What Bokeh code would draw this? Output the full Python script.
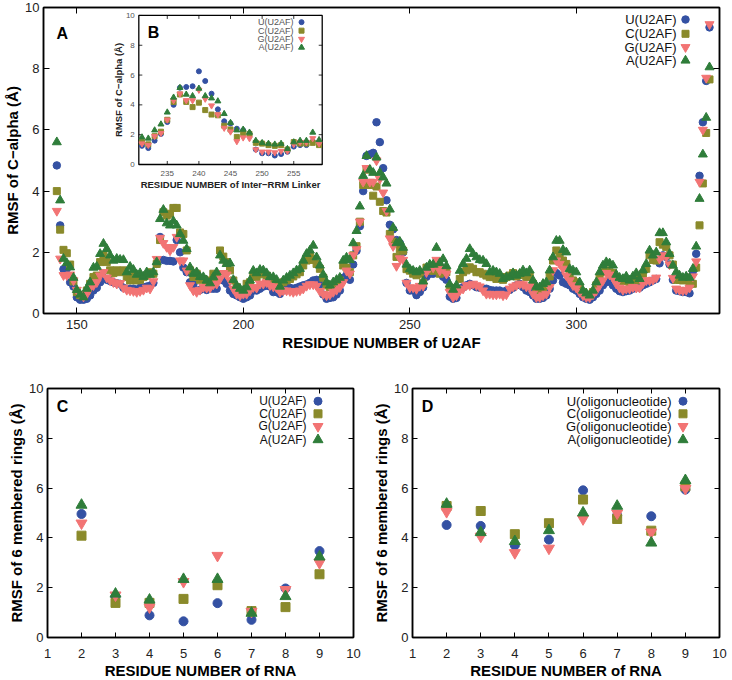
import numpy as np
from bokeh.plotting import figure
from bokeh.layouts import column, row
from bokeh.models import Range1d, LinearAxis, FixedTicker, CustomJSTickFormatter
from bokeh.core.properties import value
from bokeh.embed import file_html
from bokeh.resources import INLINE

FONT = "Liberation Sans"

# ---------------- panel A / B data: RMSF of C-alpha per residue of U2AF ----------------
residues = list(range(144, 341))

u_u2af = [
    4.84, 2.88, 1.45, 1.46, 1.02, 0.88, 0.53, 0.45, 0.45, 0.48,
    0.59, 0.75, 0.84, 1.02, 1.17, 1.10, 1.06, 1.02, 0.99, 0.97,
    0.84, 0.81, 0.81, 0.81, 0.77, 0.84, 0.86, 0.88, 0.91, 1.00,
    1.62, 2.50, 1.75, 1.72, 1.72, 1.70, 2.40, 2.00, 1.50, 1.35,
    1.02, 0.95, 0.75, 0.77, 0.81, 0.77, 0.81, 0.81, 0.81, 1.10,
    1.08, 0.97, 0.75, 0.64, 0.59, 0.53, 0.48, 0.53, 0.59, 0.75,
    0.75, 0.81, 0.88, 0.91, 0.88, 0.70, 0.70, 0.64, 0.75, 0.84,
    0.84, 0.81, 0.84, 0.88, 0.92, 0.95, 1.00, 1.08, 1.10, 0.95,
    0.62, 0.48, 0.51, 0.53, 0.62, 0.75, 1.17, 1.25, 1.10, 1.60,
    2.05, 2.85, 4.00, 5.15, 5.20, 5.25, 6.25, 5.60, 4.75, 3.70,
    2.90, 2.75, 2.40, 2.30, 2.00, 1.00, 0.75, 0.75, 0.60, 0.70,
    0.85, 1.20, 1.30, 1.30, 1.55, 1.50, 1.20, 1.10, 0.55, 0.48,
    0.51, 0.81, 0.86, 0.92, 0.97, 0.92, 0.86, 0.84, 0.81, 0.81,
    0.77, 0.75, 0.75, 0.75, 0.70, 0.75, 0.77, 0.84, 0.92, 0.97,
    0.86, 0.75, 0.70, 0.59, 0.48, 0.48, 0.51, 0.59, 0.81, 1.08,
    1.32, 1.24, 1.02, 0.97, 0.92, 0.81, 0.75, 0.64, 0.53, 0.48,
    0.45, 0.53, 0.64, 0.75, 0.92, 1.02, 1.06, 0.92, 0.81, 0.73,
    0.70, 0.73, 0.75, 0.81, 0.86, 0.84, 0.92, 0.97, 1.02, 1.08,
    1.13, 1.64, 1.90, 1.85, 1.60, 1.10, 0.75, 0.73, 0.70, 0.70,
    0.66, 1.38, 1.95, 4.50, 6.25, 7.60, 9.35,
]
c_u2af = [
    4.00, 2.74, 2.08, 1.97, 1.60, 1.05, 0.70, 0.60, 0.59, 0.75,
    0.97, 1.19, 1.24, 1.68, 1.90, 1.68, 1.41, 1.32, 1.41, 1.35,
    1.41, 1.19, 1.08, 1.24, 1.08, 1.10, 1.19, 1.24, 1.35, 1.30,
    1.62, 2.40, 3.31, 3.20, 3.26, 3.45, 3.45, 2.65, 2.60, 2.06,
    1.41, 1.19, 1.30, 1.10, 1.13, 1.02, 1.08, 1.30, 1.19, 2.06,
    1.86, 1.68, 1.41, 1.08, 0.86, 0.75, 0.70, 0.97, 1.02, 1.24,
    1.19, 1.28, 1.32, 1.24, 1.08, 1.08, 0.99, 0.84, 1.02, 1.08,
    1.13, 1.21, 1.28, 1.35, 1.57, 1.73, 1.86, 1.75, 1.62, 1.46,
    1.17, 0.92, 0.86, 0.92, 0.97, 1.08, 1.57, 1.50, 1.35, 1.90,
    2.20, 3.00, 4.20, 4.70, 4.20, 3.85, 4.15, 3.65, 3.35, 3.30,
    2.60, 2.35, 1.85, 2.10, 2.05, 1.45, 1.40, 1.30, 1.25, 1.30,
    1.00, 1.50, 1.40, 1.40, 1.45, 1.30, 1.45, 1.35, 0.85, 0.68,
    0.75, 1.13, 1.35, 1.41, 1.51, 1.46, 1.35, 1.35, 1.30, 1.24,
    1.19, 1.19, 1.13, 1.16, 1.10, 1.19, 1.24, 1.32, 1.21, 1.27,
    1.27, 1.19, 1.24, 0.97, 0.81, 0.77, 0.84, 0.92, 1.21, 1.73,
    2.06, 1.90, 1.73, 1.62, 1.30, 1.08, 1.02, 0.86, 0.70, 0.62,
    0.59, 0.70, 0.92, 1.17, 1.35, 1.41, 1.35, 1.32, 1.13, 1.08,
    1.06, 1.10, 1.02, 1.10, 1.21, 1.08, 1.30, 1.46, 1.90, 1.75,
    1.73, 2.33, 2.25, 2.17, 1.90, 1.60, 1.10, 1.10, 1.08, 1.13,
    0.97, 0.97, 1.50, 2.88, 4.25, 5.90, 7.65,
]
g_u2af = [
    3.35, 1.79, 1.25, 1.25, 1.27, 1.08, 0.77, 0.64, 0.55, 0.64,
    0.84, 0.92, 1.02, 1.24, 1.35, 1.17, 1.08, 1.02, 0.97, 0.99,
    0.84, 0.77, 0.75, 0.73, 0.70, 0.73, 0.77, 0.84, 0.81, 1.05,
    1.78, 2.47, 2.30, 2.17, 2.06, 2.17, 2.50, 1.73, 1.73, 1.40,
    0.92, 0.75, 0.70, 0.77, 0.86, 0.84, 0.84, 0.95, 0.97, 1.13,
    1.32, 1.27, 1.08, 0.81, 0.64, 0.59, 0.64, 0.64, 0.75, 0.86,
    0.84, 0.97, 0.97, 1.02, 0.92, 0.88, 0.84, 0.70, 0.75, 0.75,
    0.73, 0.70, 0.73, 0.75, 0.81, 0.90, 0.95, 0.95, 0.90, 0.73,
    0.64, 0.59, 0.62, 0.70, 0.77, 0.86, 1.02, 1.40, 1.30, 1.90,
    2.10, 3.00, 4.30, 4.75, 4.30, 4.30, 5.00, 4.40, 3.95, 3.35,
    2.45, 2.20, 1.55, 1.80, 1.75, 1.00, 0.85, 0.85, 0.80, 0.90,
    0.90, 1.35, 1.50, 1.50, 1.75, 1.40, 1.46, 1.30, 0.70, 0.53,
    0.59, 0.75, 0.81, 0.92, 0.92, 0.97, 0.92, 0.88, 0.75, 0.64,
    0.64, 0.62, 0.62, 0.64, 0.59, 0.62, 0.81, 0.88, 0.92, 0.97,
    0.95, 0.88, 0.88, 0.64, 0.53, 0.53, 0.59, 0.64, 0.86, 1.41,
    1.73, 1.62, 1.46, 1.24, 1.08, 0.92, 0.84, 0.70, 0.59, 0.53,
    0.53, 0.62, 0.75, 0.92, 1.08, 1.32, 1.27, 1.16, 0.97, 0.84,
    0.77, 0.81, 0.81, 0.86, 0.84, 0.84, 0.99, 1.08, 1.08, 1.10,
    1.17, 1.79, 1.90, 1.85, 1.60, 1.16, 0.81, 0.77, 0.75, 0.77,
    0.84, 1.21, 1.70, 4.30, 6.00, 7.70, 9.45,
]
a_u2af = [
    5.60, 3.70, 1.79, 1.65, 1.51, 1.17, 0.77, 0.62, 0.53, 0.81,
    1.02, 1.50, 1.53, 1.95, 2.28, 2.11, 1.90, 1.73, 1.79, 1.76,
    1.75, 1.35, 1.53, 1.43, 1.27, 1.32, 1.20, 1.35, 1.27, 1.35,
    1.68, 3.09, 3.39, 2.95, 2.88, 3.02, 2.88, 2.60, 2.38, 2.11,
    1.51, 1.30, 1.35, 1.20, 1.19, 1.08, 0.99, 1.19, 1.35, 1.90,
    1.73, 1.62, 1.64, 1.10, 0.91, 0.81, 0.75, 0.86, 1.08, 1.40,
    1.32, 1.43, 1.41, 1.32, 1.19, 1.19, 1.10, 0.88, 1.08, 1.17,
    1.24, 1.32, 1.41, 1.46, 1.73, 1.95, 2.06, 2.22, 1.84, 1.57,
    1.27, 1.02, 0.92, 1.02, 1.10, 1.17, 1.73, 1.83, 1.75, 2.30,
    2.70, 3.50, 4.50, 5.15, 4.70, 4.60, 5.10, 4.60, 4.45, 4.25,
    3.40, 2.80, 2.30, 2.35, 2.15, 1.60, 1.45, 1.40, 1.35, 1.40,
    1.05, 1.50, 1.60, 1.60, 2.15, 1.65, 1.78, 1.55, 0.95, 0.78,
    0.92, 1.40, 1.62, 1.79, 2.11, 1.95, 1.84, 1.75, 1.73, 1.62,
    1.35, 1.40, 1.35, 1.30, 1.13, 1.19, 1.19, 1.32, 1.24, 1.30,
    1.41, 1.32, 1.41, 1.08, 0.88, 0.86, 0.97, 1.02, 1.41, 1.84,
    2.38, 2.38, 2.08, 2.00, 1.46, 1.41, 1.35, 1.02, 0.75, 0.66,
    0.59, 0.75, 1.02, 1.35, 1.57, 1.68, 1.64, 1.57, 1.27, 1.17,
    1.13, 1.21, 1.08, 1.21, 1.32, 1.13, 1.41, 1.62, 2.06, 1.90,
    2.00, 2.63, 2.63, 2.33, 1.95, 1.57, 1.35, 1.24, 1.17, 1.21,
    1.17, 1.46, 2.19, 3.75, 5.20, 6.40, 8.05,
]

# inset B shows the inter-RRM linker part of the same data
linker_first, linker_last = 231, 259

# ---------------- panels C / D: RMSF of 6-membered rings per RNA residue ----------------
rna_residues = [2, 3, 4, 5, 6, 7, 8, 9]
c_u = [4.96, 1.65, 0.89, 0.65, 1.38, 0.71, 1.97, 3.47]
c_c = [4.09, 1.39, 1.39, 1.55, 2.10, 1.06, 1.22, 2.54]
c_g = [4.59, 1.70, 1.22, 2.24, 3.29, 1.04, 1.92, 3.00]
c_a = [5.32, 1.75, 1.51, 2.34, 2.34, 0.98, 1.65, 3.24]

d_u = [4.52, 4.48, 3.70, 3.93, 5.91, 4.90, 4.87, 5.94]
d_c = [5.28, 5.08, 4.15, 4.59, 5.54, 4.76, 4.29, 6.07]
d_g = [5.05, 4.06, 3.40, 3.58, 4.76, 4.99, 4.23, 5.98]
d_a = [5.36, 4.22, 3.86, 4.30, 5.01, 5.28, 3.80, 6.31]

names_u2af = ["U(U2AF)", "C(U2AF)", "G(U2AF)", "A(U2AF)"]
names_oligo = ["U(oligonucleotide)", "C(oligonucleotide)", "G(oligonucleotide)", "A(oligonucleotide)"]

a_xticks = [150, 200, 250, 300]
b_xticks = [235, 240, 245, 250, 255]
cd_xticks = [1, 2, 3, 4, 5, 6, 7, 8, 9, 10]
yticks = [0, 2, 4, 6, 8, 10]

# ---------------- styling ----------------
COLORS = ["#3451a3", "#8a8a2b", "#f27474", "#2f7d3a"]
MARKERS = ["circle", "square", "inverted_triangle", "triangle"]
SIZE_A = [7.5, 7, 9, 9]
SIZE_B = [5, 5, 6, 6]
SIZE_CD = [9, 9, 11, 11]

blank = CustomJSTickFormatter(code="return '';")


def style(p, xticks, xlabel, ylabel, tick_len, lab_size, title_size, x_standoff, x_title_standoff):
    p.grid.visible = False
    p.outline_line_color = "black"
    p.outline_line_width = 1.5
    p.outline_line_alpha = 1.0
    p.background_fill_color = "white"
    p.border_fill_color = "white"
    for ax in (p.xaxis[0], p.yaxis[0]):
        ax.axis_line_color = "black"
        ax.axis_line_width = 1.5
        ax.major_tick_in = tick_len
        ax.major_tick_out = 0
        ax.major_tick_line_color = "black"
        ax.major_tick_line_width = 1
        ax.minor_tick_line_color = None
        ax.major_label_text_font = FONT
        ax.major_label_text_font_size = lab_size
        ax.major_label_text_color = "#222222"
        ax.axis_label_text_font = FONT
        ax.axis_label_text_font_size = title_size
        ax.axis_label_text_font_style = "bold"
        ax.axis_label_text_color = "black"
    p.xaxis[0].ticker = FixedTicker(ticks=xticks)
    p.yaxis[0].ticker = FixedTicker(ticks=yticks)
    p.xaxis[0].axis_label = xlabel
    p.yaxis[0].axis_label = ylabel
    p.xaxis[0].major_label_standoff = x_standoff
    p.xaxis[0].axis_label_standoff = x_title_standoff
    p.yaxis[0].major_label_standoff = 4
    p.yaxis[0].axis_label_standoff = 1
    for loc, tk in (("above", xticks), ("right", yticks)):
        ax = LinearAxis(ticker=FixedTicker(ticks=tk), formatter=blank,
                        major_label_text_font_size="0px", major_label_standoff=0,
                        major_tick_in=tick_len, major_tick_out=0,
                        minor_tick_line_color=None, axis_line_width=1.5,
                        axis_line_color="black")
        p.add_layout(ax, loc)


def text(p, xs, ys, labels, size, align="center", bold=False, color="black",
         angle=0.0, xo=0, yo=0, **kw):
    p.text(x=xs, y=ys, text=labels, text_font=value(FONT), text_font_size=value(size),
           text_font_style="bold" if bold else "normal", text_color=color,
           text_align=align, text_baseline="middle", angle=angle,
           x_offset=xo, y_offset=yo, **kw)


# ================= panel A =================
A_FW, A_FH = 676, 306
A_X, A_Y = (140, 343), (0, 10)
pA = figure(frame_width=A_FW, frame_height=A_FH, x_range=Range1d(*A_X), y_range=Range1d(*A_Y),
            output_backend="svg", toolbar_location=None,
            min_border_left=43, min_border_right=8, min_border_top=7, min_border_bottom=0)
style(pA, a_xticks, "RESIDUE NUMBER of U2AF", "RMSF of C\u2212alpha (\u00c5)", 6, "13px", "15px", 6, 2)

a_series = [u_u2af, c_u2af, g_u2af, a_u2af]
for vals, col, mk, sz in zip(a_series, COLORS, MARKERS, SIZE_A):
    pA.scatter(residues, vals, marker=mk, size=sz, fill_color=col, line_color=col)


def ax_px(px):  # pixels from frame left -> data x
    return A_X[0] + px * (A_X[1] - A_X[0]) / A_FW


def ay_px(px):  # pixels from frame top -> data y
    return A_Y[1] - px * (A_Y[1] - A_Y[0]) / A_FH


# legend A (text right, marker at right)
rows_px = [12, 26.3, 39.7, 53]
text(pA, [ax_px(633)] * 4, [ay_px(r) for r in rows_px], names_u2af, "13px", align="right",
     color="#111111")
for r, col, mk, sz in zip(rows_px, COLORS, MARKERS, SIZE_A):
    pA.scatter([ax_px(642)], [ay_px(r)], marker=mk, size=sz, fill_color=col, line_color=col)
text(pA, [ax_px(18.7)], [ay_px(26)], ["A"], "16px", bold=True)

# ----- inset B inside panel A, via extra ranges -----
B_X, B_Y = (230.5, 259.5), (0, 10)
ins_l, ins_r, ins_b, ins_t = 0.141, 0.4123, 0.487, 0.974
span_x = (B_X[1] - B_X[0]) / (ins_r - ins_l)
span_y = (B_Y[1] - B_Y[0]) / (ins_t - ins_b)
pA.extra_x_ranges = {"ix": Range1d(B_X[0] - ins_l * span_x, B_X[0] - ins_l * span_x + span_x)}
pA.extra_y_ranges = {"iy": Range1d(B_Y[0] - ins_b * span_y, B_Y[0] - ins_b * span_y + span_y)}
bpx_x = A_FW / span_x  # px per inset x unit
bpx_y = A_FH / span_y  # px per inset y unit
IN = dict(x_range_name="ix", y_range_name="iy")

pA.quad(left=B_X[0], right=B_X[1], bottom=B_Y[0], top=B_Y[1], fill_color="white",
        line_color="black", line_width=1.3, **IN)
tl = 3.5
pA.segment(x0=b_xticks, y0=[B_Y[0]] * 5, x1=b_xticks, y1=[B_Y[0] + tl / bpx_y] * 5,
           line_color="black", line_width=0.8, **IN)
pA.segment(x0=b_xticks, y0=[B_Y[1]] * 5, x1=b_xticks, y1=[B_Y[1] - tl / bpx_y] * 5,
           line_color="black", line_width=0.8, **IN)
pA.segment(x0=[B_X[0]] * 6, y0=yticks, x1=[B_X[0] + tl / bpx_x] * 6, y1=yticks,
           line_color="black", line_width=0.8, **IN)
pA.segment(x0=[B_X[1]] * 6, y0=yticks, x1=[B_X[1] - tl / bpx_x] * 6, y1=yticks,
           line_color="black", line_width=0.8, **IN)
text(pA, b_xticks, [B_Y[0]] * 5, [str(t) for t in b_xticks], "8px", color="#555555", yo=9, **IN)
text(pA, [B_X[0]] * 6, yticks, [str(t) for t in yticks], "8px", align="right",
     color="#555555", xo=-4, **IN)
text(pA, [(B_X[0] + B_X[1]) / 2], [B_Y[0] - 20 / bpx_y], ["RESIDUE NUMBER of Inter\u2212RRM Linker"],
     "9.5px", bold=True, color="#222222", **IN)
text(pA, [B_X[0] - 20 / bpx_x], [(B_Y[0] + B_Y[1]) / 2], ["RMSF of C\u2212alpha (\u00c5)"],
     "9.5px", bold=True, color="#222222", angle=np.pi / 2, **IN)

sel = [i for i, r in enumerate(residues) if linker_first <= r <= linker_last]
for vals, col, mk, sz in zip(a_series, COLORS, MARKERS, SIZE_B):
    pA.scatter([residues[i] for i in sel], [vals[i] for i in sel], marker=mk, size=sz,
               fill_color=col, line_color=col, **IN)

b_rows = [6.7, 15.2, 23.6, 32]
text(pA, [B_X[0] + 154.7 / bpx_x] * 4, [B_Y[1] - r / bpx_y for r in b_rows], names_u2af, "9px",
     align="right", color="#555555", **IN)
for r, col, mk, sz in zip(b_rows, COLORS, MARKERS, SIZE_B):
    pA.scatter([B_X[0] + 162.7 / bpx_x], [B_Y[1] - r / bpx_y], marker=mk, size=sz,
               fill_color=col, line_color=col, **IN)
text(pA, [B_X[0] + 14.7 / bpx_x], [B_Y[1] - 17 / bpx_y], ["B"], "16px", bold=True, **IN)


# ================= panels C and D =================
def rna_panel(series, names, label, fw, border_right):
    FW, FH = fw, 249
    X, Y = (1, 10), (0, 10)
    p = figure(frame_width=FW, frame_height=FH, x_range=Range1d(*X), y_range=Range1d(*Y),
               output_backend="svg", toolbar_location=None,
               min_border_left=47, min_border_right=border_right, min_border_top=35,
               min_border_bottom=0)
    style(p, cd_xticks, "RESIDUE NUMBER of RNA", "RMSF of 6 membered rings (\u00c5)", 5,
          "13px", "15px", 11, 1)
    for vals, col, mk, sz in zip(series, COLORS, MARKERS, SIZE_CD):
        p.scatter(rna_residues, vals, marker=mk, size=sz, fill_color=col, line_color=col)

    def cx(px):
        return X[0] + px * (X[1] - X[0]) / FW

    def cy(px):
        return Y[1] - px * (Y[1] - Y[0]) / FH

    rows = [12.7, 25.3, 37.9, 51.3]
    size = "12px" if label == "C" else "13px"
    text(p, [cx(259)] * 4, [cy(r) for r in rows], names, size, align="right", color="#111111")
    for r, col, mk, sz in zip(rows, COLORS, MARKERS, SIZE_CD):
        p.scatter([cx(270.5)], [cy(r)], marker=mk, size=sz - 1, fill_color=col, line_color=col)
    text(p, [cx(15)], [cy(17.5)], [label], "16px", bold=True)
    return p


pC = rna_panel([c_u, c_c, c_g, c_a], names_u2af, "C", 306, 12)
pD = rna_panel([d_u, d_c, d_g, d_a], names_oligo, "D", 307, 8)

layout = column(pA, row(pC, pD))
open("out.html", "w").write(file_html(layout, INLINE))
